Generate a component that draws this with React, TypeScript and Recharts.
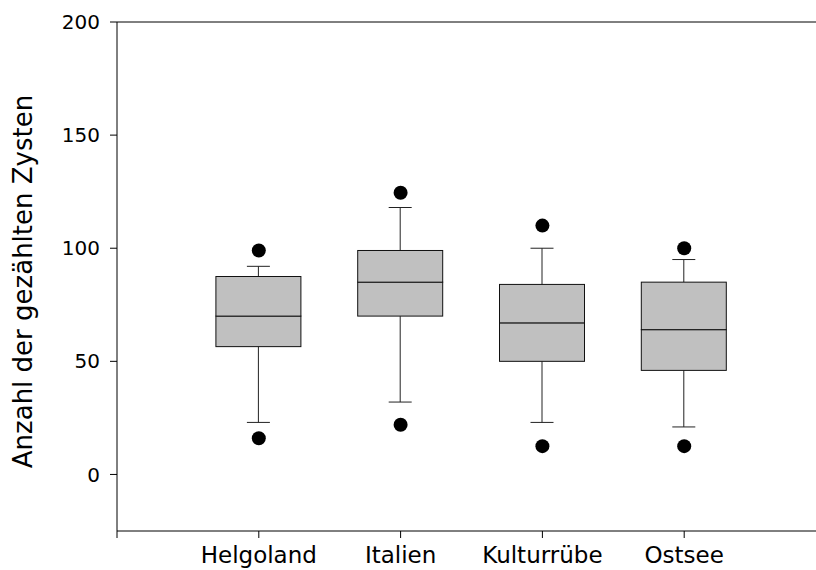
import { Bar, ComposedChart, ReferenceLine, Scatter, XAxis, YAxis } from "recharts"

const categories = ["Helgoland", "Italien", "Kulturrübe", "Ostsee"]
const whiskerLow = [23, 32, 23, 21]
const quartile1 = [56.5, 70, 50, 46]
const medians = [70, 85, 67, 64]
const quartile3 = [87.5, 99, 84, 85]
const whiskerHigh = [92, 118, 100, 95]
const outlierLow = [16, 22, 12.5, 12.5]
const outlierHigh = [99, 124.5, 110, 100]
const yTicks = [0, 50, 100, 150, 200]

const boxData = categories.map((name, i) => ({
  pos: i + 1,
  name,
  lo: whiskerLow[i],
  q1: quartile1[i],
  med: medians[i],
  q3: quartile3[i],
  hi: whiskerHigh[i],
}))

const outlierData = categories.flatMap((name, i) => [
  { pos: i + 1, name, value: outlierLow[i] },
  { pos: i + 1, name, value: outlierHigh[i] },
])

const font = "DejaVu Sans, Verdana, sans-serif"
const CAP = 11.5

const span = (p: any) => {
  const top = Math.min(p.y, p.y + p.height)
  const bot = Math.max(p.y, p.y + p.height)
  return { cx: p.x + p.width / 2, top, bot }
}

const LowWhisker = (p: any) => {
  const { cx, top, bot } = span(p)
  return (
    <g>
      <line x1={cx} x2={cx} y1={top} y2={bot} stroke="#222" />
      <line x1={cx - CAP} x2={cx + CAP} y1={bot} y2={bot} stroke="#222" />
    </g>
  )
}

const HighWhisker = (p: any) => {
  const { cx, top, bot } = span(p)
  return (
    <g>
      <line x1={cx} x2={cx} y1={top} y2={bot} stroke="#222" />
      <line x1={cx - CAP} x2={cx + CAP} y1={top} y2={top} stroke="#222" />
    </g>
  )
}

const BoxHalf = (p: any) => {
  const { top, bot } = span(p)
  return <rect x={p.x} y={top} width={p.width} height={bot - top} fill="#c0c0c0" stroke="#111" strokeWidth={1} />
}

const Dot = (p: any) => <circle cx={p.cx} cy={p.cy} r={7} fill="#000" />

const YTitle = ({ viewBox }: any) => {
  const x = viewBox.x + 23
  const y = viewBox.y + viewBox.height / 2 + 5
  return (
    <text
      x={x}
      y={y}
      transform={`rotate(-90 ${x} ${y})`}
      textAnchor="middle"
      dominantBaseline="central"
      fontSize={26}
      fontFamily={font}
      fill="#000"
    >
      Anzahl der gezählten Zysten
    </text>
  )
}

export default function App() {
  return (
    <div style={{ position: "absolute", left: 0, top: 0, width: 816, height: 570, overflow: "hidden", background: "#fff" }}>
      <ComposedChart
        width={826}
        height={570}
        data={boxData}
        margin={{ top: 22, right: 0, bottom: 0, left: 0 }}
        barGap={-85}
        style={{ fontFamily: font }}
      >
        <XAxis
          dataKey="pos"
          type="number"
          domain={[0, 5]}
          ticks={[0, 1, 2, 3, 4, 5]}
          interval={0}
          allowDataOverflow
          tickFormatter={(v) => categories[v - 1] ?? ""}
          height={39}
          tickSize={7}
          tickMargin={9}
          axisLine={{ stroke: "#000" }}
          tickLine={{ stroke: "#000" }}
          tick={{ fontSize: 23, fill: "#000", fontFamily: font }}
        />
        <YAxis
          type="number"
          domain={[-25, 200]}
          ticks={yTicks}
          interval={0}
          allowDataOverflow
          width={117}
          tickSize={7}
          tickMargin={10}
          axisLine={{ stroke: "#000" }}
          tickLine={{ stroke: "#000" }}
          tick={{ fontSize: 20, fill: "#000", fontFamily: font }}
          label={{ content: YTitle }}
        />
        <ReferenceLine y={200} stroke="#000" />
        <Bar dataKey={(d: any) => [d.lo, d.q1]} barSize={85} shape={LowWhisker} isAnimationActive={false} />
        <Bar dataKey={(d: any) => [d.q3, d.hi]} barSize={85} shape={HighWhisker} isAnimationActive={false} />
        <Bar dataKey={(d: any) => [d.q1, d.med]} barSize={85} shape={BoxHalf} isAnimationActive={false} />
        <Bar dataKey={(d: any) => [d.med, d.q3]} barSize={85} shape={BoxHalf} isAnimationActive={false} />
        <Scatter data={outlierData} dataKey="value" shape={Dot} isAnimationActive={false} />
      </ComposedChart>
    </div>
  )
}
